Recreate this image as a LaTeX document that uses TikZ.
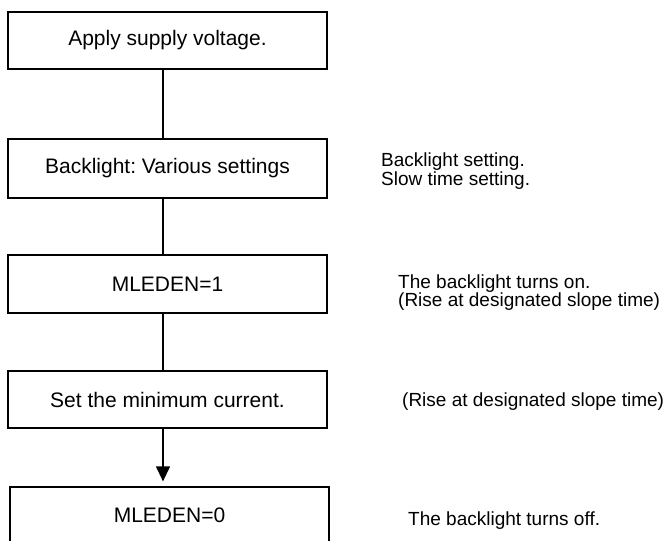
\documentclass[tikz,border=0pt]{standalone}
\usepackage{fontspec}
\setmainfont{Liberation Sans}
\usetikzlibrary{arrows.meta}
\frenchspacing
\begin{document}
\begin{tikzpicture}[x=1pt,y=-1pt,
  stepbox/.style={draw=black,line width=1.3pt,minimum width=319pt,minimum height=57pt,inner sep=0pt,font=\fontsize{21}{24}\selectfont},
  note/.style={anchor=base west,inner sep=0pt,align=left,font=\fontsize{19}{18.3}\selectfont},
  conn/.style={line width=1.3pt}]
\useasboundingbox (0,0) rectangle (670,541);
\begin{scope}
\clip (0,0) rectangle (670,541);
\node[stepbox] (b1) at (167.5,40.5) {Apply supply voltage.};
\node[stepbox,minimum height=59pt] (b2) at (167.5,168.5) {Backlight: Various settings};
\node[stepbox,minimum height=58pt] (b3) at (167.5,284) {MLEDEN=1};
\node[stepbox] (b4) at (167.5,399.5) {Set the minimum current.};
\node[stepbox] (b5) at (169.5,515.5) {MLEDEN=0};
\end{scope}
\draw[conn] ([xshift=-4.5pt]b1.south) -- ([xshift=-4.5pt]b2.north);
\draw[conn] ([xshift=-4.5pt]b2.south) -- ([xshift=-4.5pt]b3.north);
\draw[conn] ([xshift=-4.5pt]b3.south) -- ([xshift=-4.5pt]b4.north);
\draw[conn,-{Triangle[width=14pt,length=15pt]},shorten >=5pt] ([xshift=-4.5pt]b4.south) -- ([xshift=-6.5pt]b5.north);
\node[note] (n2) at (381,185) {Backlight setting.\\Slow time setting.};
\node[note] (n3) at (398,306.5) {The backlight turns on.\\(Rise at designated slope time)};
\node[note] (n4) at (402,406.7) {(Rise at designated slope time)};
\node[note] (n5) at (408,525) {The backlight turns off.};
\end{tikzpicture}
\end{document}
